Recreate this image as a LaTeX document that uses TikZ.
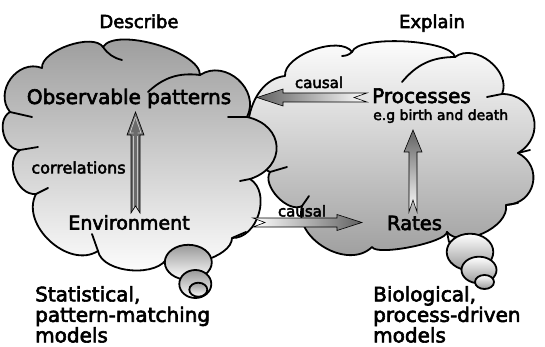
\documentclass[tikz,border=0pt]{standalone}
\usepackage{fontspec}
\setmainfont[FakeBold=3]{DejaVu Sans}
\usetikzlibrary{calc}
\begin{document}
\begin{tikzpicture}[x=1pt,y=-1pt,
  cloudline/.style={draw=black, line width=1.8pt, line join=round},
  crease/.style={draw=black, line width=1.8pt, line cap=round},
  bmp/.style={bend left=75, looseness=#1},
  bubble/.style={draw=black, line width=1.8pt},
  fatarrow/.style={draw=black, line width=0.6pt, line join=miter},
  lbl/.style={inner sep=0pt, anchor=base},
  bigtxt/.style={font=\fontsize{20}{24}\selectfont},
  midtxt/.style={font=\fontsize{19}{23}\selectfont},
  smalltxt/.style={font=\fontsize{15}{18}\selectfont},
  blocktxt/.style={anchor=north west, inner sep=0pt, align=left, font=\fontsize{20}{20.5}\selectfont}]
\useasboundingbox (0,0) rectangle (545,347);

% ---------- right cloud (Explain) ----------
\path[cloudline, top color=white, bottom color=black!40]
  (270,172) to[bmp=1.06] (285,76) to[bmp=0.75] (352,52) to[bmp=0.45] (455,57)
  to[bmp=1.06] (502,94) to[bmp=1.41] (518,153) to[bmp=1.41] (506,205)
  to[bmp=0.88] (447,232) to[bmp=0.35] (372,247) to[bmp=1.06] (302,206)
  to[bmp=0.88] (270,172) -- cycle;
\draw[crease] (352,52) to[bend left=20] (342,56);
\draw[crease] (455,57) to[bend right=25] (402,82);
\draw[crease] (502,94) -- (487,97);
\draw[crease] (518,153) -- (530,150);
\draw[crease] (506,205) -- (518,203);
\draw[crease] (447,232) -- (449,242);
\draw[crease] (302,206) -- (309,196);
\draw[crease] (270,172) -- (287,167);
% right bubbles
\draw[bubble, top color=white, bottom color=black!40] (470,252) ellipse [x radius=23.3, y radius=18.3];
\draw[bubble, top color=white, bottom color=black!40] (479,270) ellipse [x radius=17.5, y radius=13.3];
\draw[bubble, top color=white, bottom color=black!40] (484.5,282) ellipse [x radius=9.5, y radius=7];

% ---------- left cloud (Describe) ----------
\path[cloudline, top color=black!40, bottom color=white]
  (10,112) to[bmp=1.23] (42,68) to[bmp=0.7] (103,47) to[bmp=0.6] (200,75)
  to[bmp=1.23] (247,117) to[bmp=1.6] (250,179) to[bmp=1.06] (232,238)
  to[bmp=0.75] (168,256) to[bmp=0.85] (98,251) to[bmp=1.06] (36,194)
  to[bmp=1.06] (20,150) to[bmp=1.06] (10,112) -- cycle;
\draw[crease] (103,47) to[bend right=20] (122,60);
\draw[crease] (200,75) to[bend right=25] (148,92);
\draw[crease] (247,117) -- (228,117);
\draw[crease] (250,179) -- (240,181);
\draw[crease] (232,238) -- (246,232);
\draw[crease] (98,251) -- (92,234);
\draw[crease] (36,194) -- (48,188);
\draw[crease] (20,150) -- (38,147);
\draw[crease] (10,112) -- (32,117);
% left bubbles
\draw[bubble, top color=black!40, bottom color=white] (188.3,262.3) ellipse [x radius=23.5, y radius=17.5];
\draw[bubble, top color=black!40, bottom color=white] (195.3,284) ellipse [x radius=16, y radius=14];
\draw[bubble, top color=black!40, bottom color=white] (198.3,289.7) ellipse [x radius=9, y radius=7];

% ---------- text ----------
\node[lbl, font=\fontsize{18}{22}\selectfont] (describe) at (139,28) {Describe};
\node[lbl, font=\fontsize{18}{22}\selectfont] (explain) at (432,28) {Explain};
\node[lbl, bigtxt] (obs) at (129,104) {Observable patterns};
\node[lbl, font=\fontsize{16}{19}\selectfont] (corr) at (78.5,173.5) {correlations};
\node[lbl, midtxt] (env) at (129,229.5) {Environment};
\node[lbl, bigtxt] (proc) at (421.5,103) {Processes};
\node[lbl, anchor=base west, font=\fontsize{14}{17}\selectfont] (eg) at (373,120) {e.g birth and death};
\node[lbl, font=\fontsize{19.5}{23}\selectfont] (rates) at (414.5,230) {Rates};
\node[lbl, smalltxt] (c1) at (319,88) {causal};
\node[lbl, smalltxt] (c2) at (302,216.5) {causal};
\node[blocktxt] (stat) at (35,286) {Statistical,\\pattern-matching\\models};
\node[blocktxt] (bio) at (373,286) {Biological,\\process-driven\\models};

% ---------- arrows ----------
% Environment -> Observable patterns
\coordinate (a1tip) at (135.5,112);
\coordinate (a1tail) at (135.5,213);
\path[fatarrow, fill=black!58] (a1tip) -- ($(a1tip)+(8.5,23)$) -- ($(a1tip)+(4.5,23)$)
  -- ($(a1tail)+(4.5,0)$) -- ($(a1tail)+(0,-7)$) -- ($(a1tail)+(-4.5,0)$)
  -- ($(a1tip)+(-4.5,23)$) -- ($(a1tip)+(-8.5,23)$) -- cycle;
\draw[black!22, line width=0.8pt] ($(a1tip)+(-2,24)$) -- ($(a1tail)+(-2,-5)$);
\draw[black!22, line width=0.8pt] ($(a1tip)+(2,24)$) -- ($(a1tail)+(2,-5)$);
\draw[black!22, line width=0.8pt] ($(a1tip)+(0,5)$) -- ($(a1tip)+(-5.5,21)$) -- ($(a1tip)+(-2,21)$);
\draw[black!22, line width=0.8pt] ($(a1tip)+(0,5)$) -- ($(a1tip)+(5.5,21)$) -- ($(a1tip)+(2,21)$);
% Rates -> Processes
\coordinate (a2tip) at (413,130);
\coordinate (a2tail) at (413,212);
\path[fatarrow, top color=black!62, bottom color=white] (a2tip) -- ($(a2tip)+(9,22)$) -- ($(a2tip)+(4,22)$)
  -- ($(a2tail)+(4,0)$) -- ($(a2tail)+(0,-12)$) -- ($(a2tail)+(-4,0)$)
  -- ($(a2tip)+(-4,22)$) -- ($(a2tip)+(-9,22)$) -- cycle;
% Processes -> Observable patterns
\coordinate (a3tip) at (257,97.5);
\coordinate (a3tail) at (367,97.5);
\path[fatarrow, left color=black!62, right color=white] (a3tip) -- ($(a3tip)+(26,-8.5)$) -- ($(a3tip)+(26,-4.5)$)
  -- ($(a3tail)+(0,-4.5)$) -- ($(a3tail)+(-13,0)$) -- ($(a3tail)+(0,4.5)$)
  -- ($(a3tip)+(26,4.5)$) -- ($(a3tip)+(26,8.5)$) -- cycle;
% Environment -> Rates
\coordinate (a4tip) at (362,222.5);
\coordinate (a4tail) at (253,222.5);
\path[fatarrow, left color=white, right color=black!62] (a4tip) -- ($(a4tip)+(-25,-8)$) -- ($(a4tip)+(-25,-4.5)$)
  -- ($(a4tail)+(0,-4.5)$) -- ($(a4tail)+(12,0)$) -- ($(a4tail)+(0,4.5)$)
  -- ($(a4tip)+(-25,4.5)$) -- ($(a4tip)+(-25,8)$) -- cycle;
\end{tikzpicture}
\end{document}
